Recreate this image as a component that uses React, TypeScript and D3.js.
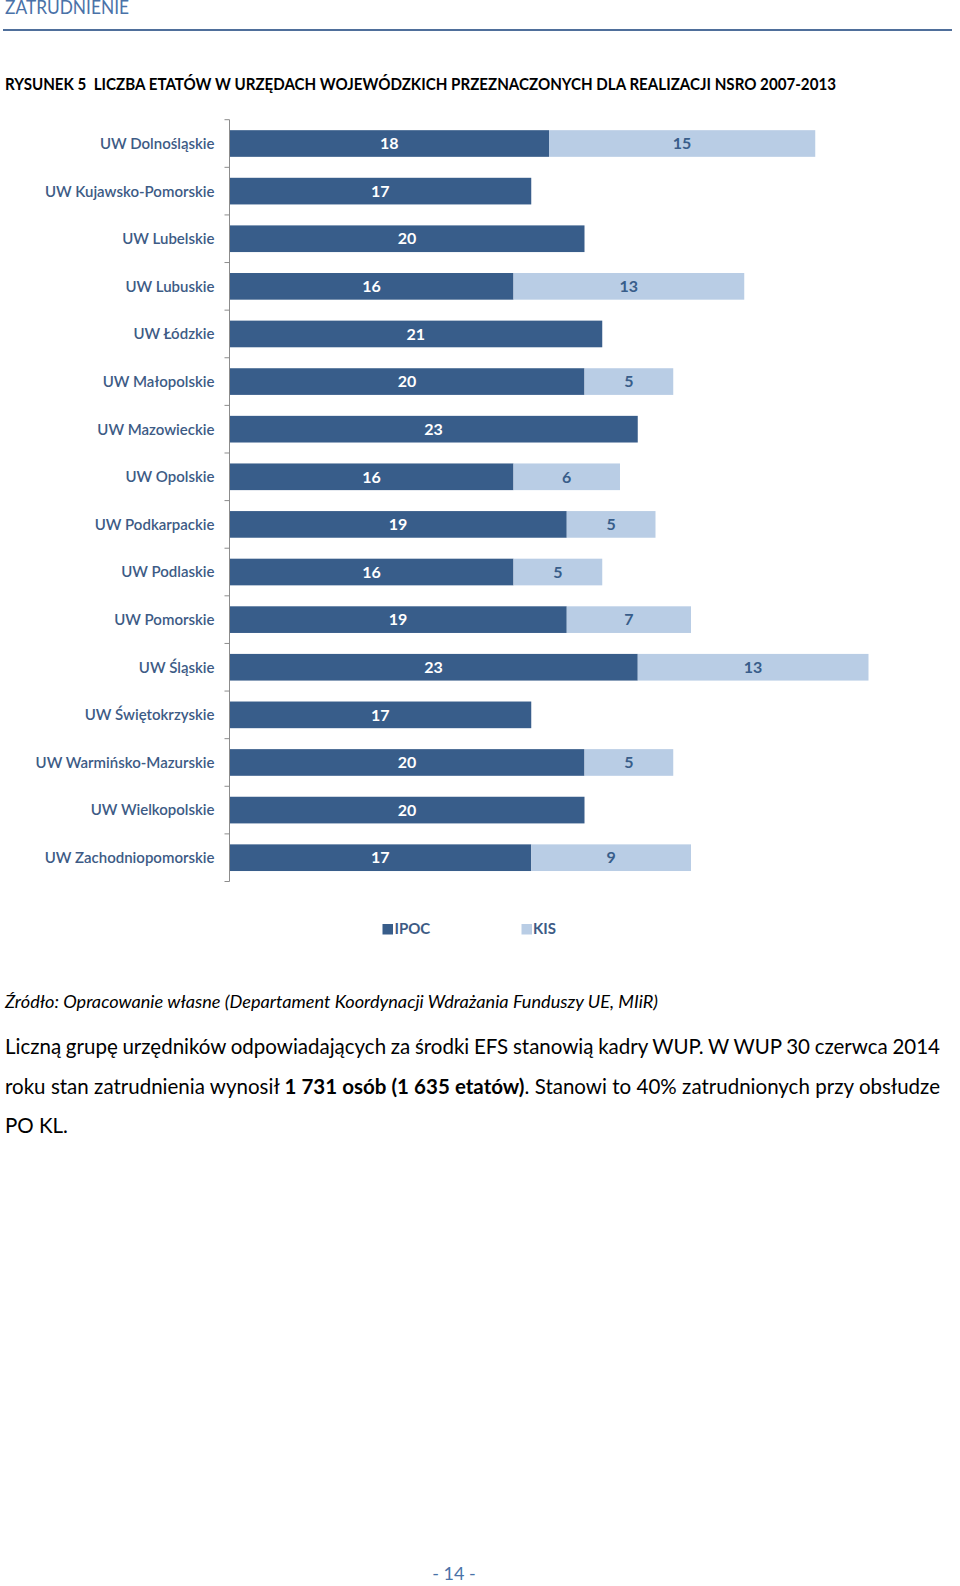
import React, { useLayoutEffect, useRef } from "react";
import * as d3 from "d3";

const categories = [
  "UW Dolnośląskie",
  "UW Kujawsko-Pomorskie",
  "UW Lubelskie",
  "UW Lubuskie",
  "UW Łódzkie",
  "UW Małopolskie",
  "UW Mazowieckie",
  "UW Opolskie",
  "UW Podkarpackie",
  "UW Podlaskie",
  "UW Pomorskie",
  "UW Śląskie",
  "UW Świętokrzyskie",
  "UW Warmińsko-Mazurskie",
  "UW Wielkopolskie",
  "UW Zachodniopomorskie",
];
const ipoc = [18, 17, 20, 16, 21, 20, 23, 16, 19, 16, 19, 23, 17, 20, 20, 17];
const kis = [15, 0, 0, 13, 0, 5, 0, 6, 5, 5, 7, 13, 0, 5, 0, 9];
const seriesNames = ["IPOC", "KIS"];

const DARK = "#385D8A";
const LIGHT = "#B9CDE5";
const LABEL = "#3D5B85";
const FONT = "Lato, 'Open Sans', sans-serif";

const bodyLines = [
  { parts: [{ t: "Liczną grupę urzędników odpowiadających za środki EFS stanowią kadry WUP. W WUP 30 czerwca 2014", b: false }], justify: true },
  {
    parts: [
      { t: "roku stan zatrudnienia wynosił ", b: false },
      { t: "1 731 osób (1 635 etatów)", b: true },
      { t: ". Stanowi to 40% zatrudnionych przy obsłudze", b: false },
    ],
    justify: true,
  },
  { parts: [{ t: "PO KL.", b: false }], justify: false },
];

export default function App() {
  const bodyRef = useRef<SVGGElement>(null);

  const x0 = 229.5;
  const x = d3.scaleLinear().domain([0, 40]).range([x0, x0 + 40 * 17.75]);
  const bandTicks = d3.scaleBand<string>().domain(categories).range([119.7, 881.5]).padding(0);
  const y = d3
    .scaleBand<string>()
    .domain(categories)
    .range([119.7, 881.5])
    .paddingInner(0.44)
    .paddingOuter(0.22);
  const bw = y.bandwidth();

  useLayoutEffect(() => {
    const g = bodyRef.current;
    if (!g) return;
    const target = 935;
    d3.select(g)
      .selectAll<SVGTextElement, unknown>("text.just")
      .each(function () {
        const el = this;
        el.style.wordSpacing = "0px";
        const w = el.getComputedTextLength();
        const txt = el.textContent || "";
        const n = (txt.match(/ /g) || []).length;
        if (n > 0) {
          const ws = (target - w) / n;
          el.style.wordSpacing = ws + "px";
        }
      });
  }, []);

  const tickYs = categories.map((c) => bandTicks(c)!).concat([881.5]);

  return (
    <svg
      width={960}
      height={1586}
      style={{ position: "absolute", left: 0, top: 0, background: "#fff" }}
      fontFamily={FONT}
    >
      <rect x={0} y={0} width={960} height={1586} fill="#fff" />
      {/* header */}
      <text x={5} y={14} fontSize={19} fill="#4A72A8" textLength={124} lengthAdjust="spacingAndGlyphs">
        ZATRUDNIENIE
      </text>
      <line x1={3} x2={952} y1={30} y2={30} stroke="#4F6F9B" strokeWidth={2} />
      <text
        x={5}
        y={90}
        fontSize={17}
        fontWeight={700}
        fill="#000"
        textLength={831}
        lengthAdjust="spacingAndGlyphs"
      >
        RYSUNEK 5{"\u00a0\u00a0"}LICZBA ETATÓW W URZĘDACH WOJEWÓDZKICH PRZEZNACZONYCH DLA REALIZACJI NSRO 2007-2013
      </text>

      {/* bars */}
      <g>
        {categories.map((c, i) => (
          <g key={c}>
            <rect x={x(0)} y={y(c)} width={x(ipoc[i]) - x(0)} height={bw} fill={DARK} />
            {kis[i] > 0 && (
              <rect
                x={x(ipoc[i])}
                y={y(c)}
                width={x(ipoc[i] + kis[i]) - x(ipoc[i])}
                height={bw}
                fill={LIGHT}
              />
            )}
            <text
              x={(x(0) + x(ipoc[i])) / 2}
              y={y(c)! + bw / 2}
              dy="0.36em"
              textAnchor="middle"
              fontSize={16}
              fontWeight={700}
              fill="#fff"
            >
              {ipoc[i]}
            </text>
            {kis[i] > 0 && (
              <text
                x={(x(ipoc[i]) + x(ipoc[i] + kis[i])) / 2}
                y={y(c)! + bw / 2}
                dy="0.36em"
                textAnchor="middle"
                fontSize={16}
                fontWeight={700}
                fill={DARK}
              >
                {kis[i]}
              </text>
            )}
            <text
              x={214.5}
              y={y(c)! + bw / 2}
              dy="0.36em"
              textAnchor="end"
              fontSize={15}
              fontWeight={600}
              fill={LABEL}
            >
              {c}
            </text>
          </g>
        ))}
      </g>

      {/* axis */}
      <g stroke="#8C8C8C" strokeWidth={1}>
        <line x1={229.5} x2={229.5} y1={119.7} y2={881.5} />
        {tickYs.map((t, i) => (
          <line key={i} x1={224.5} x2={229.5} y1={t} y2={t} />
        ))}
      </g>

      {/* legend */}
      <g fontSize={15} fontWeight={700} fill={LABEL}>
        <rect x={382.5} y={924} width={10.5} height={10.5} fill={DARK} />
        <text x={394.5} y={934}>{seriesNames[0]}</text>
        <rect x={521.5} y={924} width={10.5} height={10.5} fill={LIGHT} />
        <text x={533} y={934}>{seriesNames[1]}</text>
      </g>

      {/* source */}
      <text x={5} y={1007.5} fontSize={17.5} fontStyle="italic" fill="#000" textLength={653} lengthAdjust="spacingAndGlyphs">
        Źródło: Opracowanie własne (Departament Koordynacji Wdrażania Funduszy UE, MIiR)
      </text>

      {/* body text */}
      <g ref={bodyRef} fontSize={20.5} fill="#000">
        {bodyLines.map((ln, i) => (
          <text key={i} className={ln.justify ? "just" : ""} x={5} y={1054 + i * 39.5} xmlSpace="preserve">
            {ln.parts.map((p, j) => (
              <tspan key={j} fontWeight={p.b ? 700 : 400}>
                {p.t}
              </tspan>
            ))}
          </text>
        ))}
      </g>

      {/* page number */}
      <text x={454} y={1580} textAnchor="middle" fontSize={18} fill="#4A72A8">
        - 14 -
      </text>
    </svg>
  );
}
